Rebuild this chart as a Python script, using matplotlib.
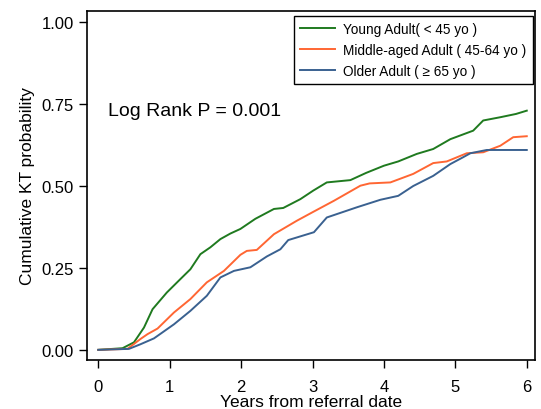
import numpy as np
import matplotlib.pyplot as plt

plt.rcParams['font.family'] = ['Liberation Sans', 'DejaVu Sans']

# cumulative KT probability
young_x = [0, 0.34, 0.50, 0.64, 0.76, 0.96, 1.15, 1.29, 1.43, 1.57, 1.71, 1.85, 1.99, 2.20,
           2.46, 2.59, 2.83, 3.01, 3.20, 3.53, 3.75, 4.00, 4.20, 4.46, 4.69, 4.93, 5.25,
           5.39, 5.63, 5.85, 6.00]
young_y = [0, 0.005, 0.023, 0.068, 0.124, 0.175, 0.216, 0.246, 0.292, 0.313, 0.338, 0.355,
           0.369, 0.400, 0.430, 0.433, 0.460, 0.486, 0.511, 0.518, 0.540, 0.562, 0.575,
           0.598, 0.613, 0.643, 0.669, 0.700, 0.710, 0.720, 0.730]

middle_x = [0, 0.41, 0.59, 0.69, 0.83, 1.06, 1.29, 1.52, 1.76, 1.99, 2.08, 2.22, 2.46, 2.78,
            3.00, 3.30, 3.67, 3.80, 4.09, 4.41, 4.69, 4.88, 5.16, 5.39, 5.63, 5.81, 6.00]
middle_y = [0, 0.003, 0.033, 0.048, 0.065, 0.114, 0.155, 0.206, 0.241, 0.290, 0.302, 0.305,
            0.353, 0.394, 0.420, 0.455, 0.501, 0.508, 0.511, 0.537, 0.570, 0.575, 0.600,
            0.603, 0.623, 0.649, 0.652]

older_x = [0, 0.43, 0.59, 0.78, 1.06, 1.29, 1.52, 1.71, 1.90, 2.13, 2.36, 2.55, 2.66, 3.02,
           3.20, 3.62, 3.95, 4.20, 4.41, 4.69, 4.93, 5.11, 5.21, 5.44, 6.00]
older_y = [0, 0.003, 0.017, 0.035, 0.078, 0.119, 0.165, 0.221, 0.241, 0.252, 0.285, 0.307,
           0.335, 0.359, 0.404, 0.435, 0.458, 0.470, 0.500, 0.531, 0.567, 0.588, 0.600,
           0.610, 0.610]

labels = ['Young Adult( < 45 yo )', 'Middle-aged Adult ( 45-64 yo )', 'Older Adult ( \u2265 65 yo )']
colors = ['#1f7a1f', '#ff6633', '#3a6190']

fig = plt.figure(figsize=(5.41, 4.10), dpi=100)
ax = fig.add_axes([0.160, 0.1195, 0.829, 0.8515])

for xs, ys, lab, col in zip([young_x, middle_x, older_x], [young_y, middle_y, older_y], labels, colors):
    ax.plot(xs, ys, color=col, lw=1.4, label=lab)

ax.set_xlim(-0.164, 6.116)
ax.set_ylim(-0.031, 1.0345)
ax.set_xticks(range(7))
ax.set_yticks([0, 0.25, 0.5, 0.75, 1.0])
ax.set_yticklabels(['0.00', '0.25', '0.50', '0.75', '1.00'])
ax.tick_params(direction='out', length=6, width=1, labelsize=12)
ax.tick_params(axis='x', pad=8)
ax.tick_params(axis='y', pad=3)
for s in ax.spines.values():
    s.set_linewidth(1.2)

ax.set_xlabel('Years from referral date', fontsize=12.5, labelpad=0)
ax.set_ylabel('Cumulative KT probability', fontsize=12.5, labelpad=5)

ax.text(0.14, 0.73, 'Log Rank P = 0.001', fontsize=14, va='center', ha='left')

leg = ax.legend(loc='upper right', bbox_to_anchor=(0.995, 0.985), borderaxespad=0,
                fontsize=9.8, fancybox=False, edgecolor='black', framealpha=1,
                handlelength=2.6, handletextpad=0.6, borderpad=0.45, labelspacing=0.5)
leg.get_frame().set_linewidth(1.0)

fig.savefig('out.png', dpi=100)
